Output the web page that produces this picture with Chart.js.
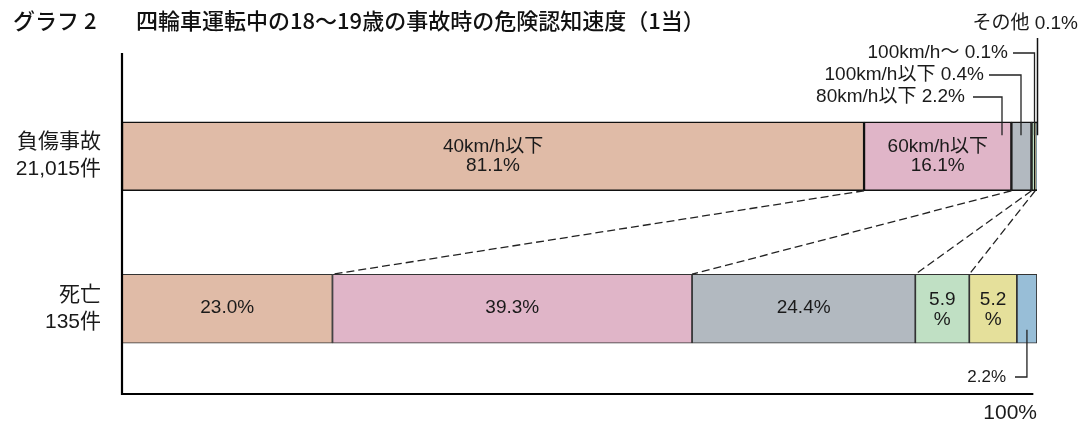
<!DOCTYPE html>
<html><head><meta charset="utf-8">
<script src="https://cdn.jsdelivr.net/npm/chart.js@4"></script>
<style>html,body{margin:0;padding:0;background:#fff}#wrap{width:1086px;height:421px}</style>
</head><body><div id="wrap"><canvas id="c" width="1086" height="421"></canvas></div>
<script>
const categories = [['負傷事故','21,015件'],['死亡','135件']];
const seriesNames = ['40km/h以下','60km/h以下','80km/h以下','100km/h以下','100km/h～','その他'];
const injuryValues = [81.1,16.1,2.2,0.4,0.1,0.1];
const fatalValues = [23.0,39.3,24.4,5.9,5.2,2.2];
const seriesColors = ['#e0bba7','#e0b5c8','#b2b9c0','#c0e0c4','#e5e09b','#98bed7'];
const titleLead = 'グラフ 2';
const titleText = '四輪車運転中の18～19歳の事故時の危険認知速度（1当）';
const totalLabel = '100%';

const FONT = '"Liberation Sans","Noto Sans CJK JP",sans-serif';
const INK = '#1a1a1a';

function txt(ctx, s, x, y, size, align, maxW, weight) {
  ctx.save();
  ctx.font = (weight || 'normal') + ' ' + size + 'px ' + FONT;
  ctx.fillStyle = INK;
  ctx.textAlign = align || 'center';
  ctx.textBaseline = 'middle';
  if (maxW) ctx.fillText(s, x, y, maxW); else ctx.fillText(s, x, y);
  ctx.restore();
}
function line(ctx, pts, w, color, dash) {
  ctx.save();
  ctx.beginPath();
  ctx.strokeStyle = color || '#222';
  ctx.lineWidth = w || 1;
  if (dash) ctx.setLineDash(dash);
  ctx.moveTo(pts[0][0], pts[0][1]);
  for (let i = 1; i < pts.length; i++) ctx.lineTo(pts[i][0], pts[i][1]);
  ctx.stroke();
  ctx.restore();
}

const decor = {
  id: 'decor',
  afterDatasetsDraw(chart) {
    const ctx = chart.ctx;
    const xs = chart.scales.x, ys = chart.scales.y;
    const metas = seriesNames.map((_, i) => chart.getDatasetMeta(i));
    const top = i => metas[i].data[0];
    const bot = i => metas[i].data[1];

    // title
    ctx.save();
    ctx.font = '500 22px "Noto Sans CJK JP",sans-serif';
    ctx.fillStyle = '#111';
    ctx.textBaseline = 'middle';
    ctx.fillText(titleLead, 13, 21, 88);
    ctx.fillText(titleText, 136, 21, 597);
    ctx.restore();

    // axes
    const x0 = xs.getPixelForValue(0);
    line(ctx, [[x0, 53], [x0, 394], [xs.getPixelForValue(99.6), 394]], 2.2, '#000');
    txt(ctx, totalLabel, xs.getPixelForValue(100), 413, 21, 'right');

    // category labels
    categories.forEach((c, k) => {
      const yc = ys.getPixelForValue(k);
      txt(ctx, c[0], 101, yc - 14, 21, 'right');
      txt(ctx, c[1], 101, yc + 13, 21, 'right');
    });

    // dashed connectors between matching boundaries
    for (let i = 0; i < 4; i++) {
      const a = top(i), b = bot(i);
      line(ctx, [[a.x, a.y + a.height / 2], [b.x, b.y - b.height / 2]], 1.3, '#222', [8, 4]);
    }

    // labels inside top bar
    [0, 1].forEach(i => {
      const e = top(i);
      const cx = (e.x + e.base) / 2;
      txt(ctx, seriesNames[i], cx, e.y - 9, 19);
      txt(ctx, injuryValues[i].toFixed(1) + '%', cx, e.y + 10, 19);
    });
    // labels inside bottom bar
    [0, 1, 2].forEach(i => {
      const e = bot(i);
      txt(ctx, fatalValues[i].toFixed(1) + '%', (e.x + e.base) / 2, e.y - 1, 19);
    });
    [3, 4].forEach(i => {
      const e = bot(i);
      const cx = (e.x + e.base) / 2;
      txt(ctx, fatalValues[i].toFixed(1), cx, e.y - 9, 19);
      txt(ctx, '%', cx, e.y + 11, 19);
    });

    // callouts for small top segments
    const right = xs.getPixelForValue(100);
    const barY = top(0).y;
    const lineEnd = barY - 21;
    const rows = [
      { i: 2, y: 97, tx: 965, hx: 973, lx: right - 35 },
      { i: 3, y: 75, tx: 984, hx: 989, lx: right - 16 },
      { i: 4, y: 53, tx: 1008, hx: 1013, lx: right - 2.5 }
    ];
    rows.forEach(r => {
      txt(ctx, seriesNames[r.i] + ' ' + injuryValues[r.i].toFixed(1) + '%', r.tx, r.y, 19, 'right');
      line(ctx, [[r.hx, r.y], [r.lx, r.y], [r.lx, lineEnd]], 1.3, '#222');
    });
    txt(ctx, seriesNames[5] + ' ' + injuryValues[5].toFixed(1) + '%', 1078, 24, 19, 'right');
    line(ctx, [[right + 0.5, 38], [right + 0.5, lineEnd]], 1.5, '#111');

    // callout for last bottom segment
    const eb = bot(5);
    const bx = (eb.x + eb.base) / 2;
    line(ctx, [[bx, eb.y + 21], [bx, 377], [1015, 377]], 1.3, '#222');
    txt(ctx, fatalValues[5].toFixed(1) + '%', 1006, 377, 17, 'right');
  }
};

new Chart(document.getElementById('c'), {
  type: 'bar',
  data: {
    labels: categories.map(c => c.join(' ')),
    datasets: seriesNames.map((n, i) => ({
      label: n,
      data: [injuryValues[i], fatalValues[i]],
      backgroundColor: seriesColors[i],
      borderColor: ['#111', '#333'],
      borderWidth: [1.5, 1.2],
      borderSkipped: false,
      barThickness: 69
    }))
  },
  options: {
    indexAxis: 'y',
    responsive: false,
    animation: false,
    layout: { padding: { left: 122, right: 49, top: 80, bottom: 36 } },
    scales: {
      x: { stacked: true, min: 0, max: 100, display: false },
      y: { stacked: true, display: false }
    },
    plugins: { legend: { display: false }, tooltip: { enabled: false }, title: { display: false } }
  },
  plugins: [decor]
});
</script></body></html>
